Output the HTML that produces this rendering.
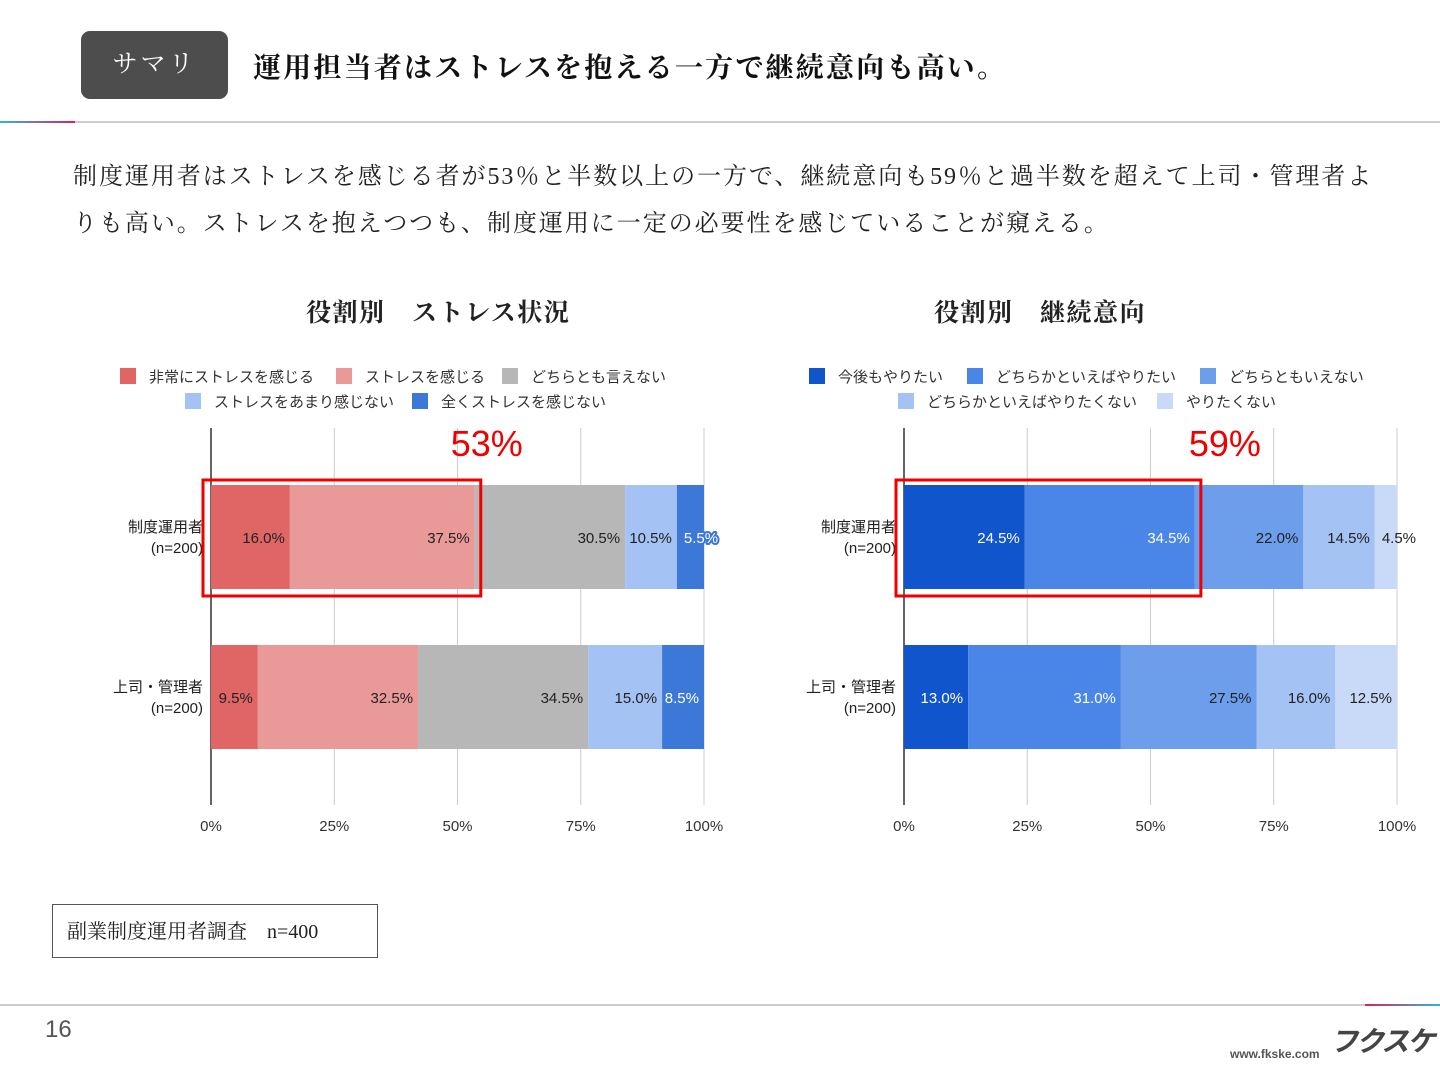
<!DOCTYPE html>
<html><head><meta charset="utf-8"><style>
body{margin:0;width:1440px;height:1080px;background:#fff;position:relative;overflow:hidden;font-family:"Liberation Sans","Noto Sans CJK JP",sans-serif}
.serif{font-family:"Liberation Serif","Noto Serif CJK SC",serif}
</style></head><body>
<div class="serif" style="position:absolute;left:81px;top:31px;width:147px;height:68px;background:#4d4d4d;border-radius:9px;color:#fff;font-size:25px;letter-spacing:3px;line-height:68px;text-align:center">サマリ</div>
<div class="serif" style="position:absolute;left:253px;top:46px;font-size:28px;letter-spacing:2.2px;font-weight:bold;color:#111;white-space:nowrap">運用担当者はストレスを抱える一方で継続意向も高い。</div>
<div style="position:absolute;left:0;top:121px;width:1440px;height:2px;background:#ccc"></div>
<div style="position:absolute;left:0;top:121px;width:75px;height:2px;background:linear-gradient(90deg,#29b6e8,#e0205a)"></div>
<div class="serif" style="position:absolute;left:73px;top:154px;width:1360px;font-size:24px;line-height:47px;color:#222;letter-spacing:1.95px;white-space:nowrap">制度運用者はストレスを感じる者が53％と半数以上の一方で、継続意向も59％と過半数を超えて上司・管理者よ<br>りも高い。ストレスを抱えつつも、制度運用に一定の必要性を感じていることが窺える。</div>
<svg id="chart" width="1440" height="1080" style="position:absolute;left:0;top:0"></svg>
<div class="serif" style="position:absolute;left:52px;top:904px;width:326px;height:54px;border:1.5px solid #555;font-size:20px;line-height:54px;padding-left:14px;box-sizing:border-box;color:#222">副業制度運用者調査　n=400</div>
<div style="position:absolute;left:0;top:1004px;width:1440px;height:2px;background:#ccc"></div>
<div style="position:absolute;left:1365px;top:1004px;width:75px;height:2px;background:linear-gradient(90deg,#e0205a,#29b6e8)"></div>
<div style="position:absolute;left:45px;top:1016px;font-size:24px;color:#555">16</div>
<div style="position:absolute;left:1330px;top:1020px;font-size:28px;font-style:italic;font-weight:bold;color:#444;letter-spacing:-2px">フクスケ</div>
<div style="position:absolute;left:1230px;top:1047px;font-size:12px;font-weight:bold;color:#555">www.fkske.com</div>
<script>
const cats=["制度運用者|(n=200)","上司・管理者|(n=200)"];
const stressNames=["非常にストレスを感じる","ストレスを感じる","どちらとも言えない","ストレスをあまり感じない","全くストレスを感じない"];
const stressVals=[[16.0,37.5,30.5,10.5,5.5],[9.5,32.5,34.5,15.0,8.5]];
const contNames=["今後もやりたい","どちらかといえばやりたい","どちらともいえない","どちらかといえばやりたくない","やりたくない"];
const contVals=[[24.5,34.5,22.0,14.5,4.5],[13.0,31.0,27.5,16.0,12.5]];
const ticks=[0,25,50,75,100];
const NS="http://www.w3.org/2000/svg",svg=document.getElementById('chart');
function el(t,a,txt){const e=document.createElementNS(NS,t);for(const k in a)e.setAttribute(k,a[k]);if(txt!==undefined)e.textContent=txt;svg.appendChild(e);return e;}
function chart(x0,title,tx,names,vals,colors,lblCol,legendRows,hl,hlText,hlOff){
 const W=493,X=v=>x0+v/100*W,rowY=[485,645],bh=104;
 let t=el('text',{x:tx,y:321,'font-size':25,'letter-spacing':1.5,'font-weight':'bold','font-family':'"Liberation Serif","Noto Serif CJK SC",serif',fill:'#222'},title);
 
 legendRows.forEach((row,ri)=>{row.items.forEach((it,j)=>{
  const lx=row.x[j],ly=368+ri*25;
  let r=el('rect',{x:lx,y:ly,width:16,height:16,fill:colors[it]});
  
  let lt=el('text',{x:lx+29,y:ly+14,'font-size':15,fill:'#333'},names[it]);
  });});
 ticks.forEach(v=>{
  let g=el('line',{x1:X(v),x2:X(v),y1:428,y2:805,stroke:v===0?'#333':'#ccc','stroke-width':v===0?1.5:1});
  
  let tl=el('text',{x:X(v),y:831,'font-size':15,fill:'#333','text-anchor':'middle'},v+'%');
  });
 vals.forEach((row,i)=>{let acc=0;
  const p=cats[i].split('|');
  let c1=el('text',{x:x0-8,y:rowY[i]+47,'font-size':15,fill:'#222','text-anchor':'end'},p[0]);
  
  let c2=el('text',{x:x0-8,y:rowY[i]+68,'font-size':15,fill:'#222','text-anchor':'end'},p[1]);
  
  row.forEach((v,j)=>{
   let b=el('rect',{x:X(acc),y:rowY[i],width:X(acc+v)-X(acc),height:bh,fill:colors[j]});
   
   const narrow=(X(acc+v)-X(acc))<40;
   const attrs={x:narrow?X(acc)+7:X(acc+v)-5,y:rowY[i]+58,'font-size':15,fill:lblCol[j],'text-anchor':narrow?'start':'end'};
   if(narrow&&lblCol[j]==='#fff'){attrs.stroke=colors[j];attrs['stroke-width']=4;attrs['paint-order']='stroke';attrs['stroke-linejoin']='round';}
   let vl=el('text',attrs,v.toFixed(1)+'%');
   
   acc+=v;});});
 let hb=el('rect',{x:x0-8,y:480,width:X(hl)-x0+14,height:116,fill:'none',stroke:'#e00','stroke-width':3});
 
 let ht=el('text',{x:X(hl)+hlOff,y:456,'font-size':36,fill:'#e00','text-anchor':'middle'},hlText);
 
}
chart(211,'役割別　ストレス状況',306,stressNames,stressVals,['#e06666','#ea9999','#b7b7b7','#a4c2f4','#3c78d8'],['#222','#222','#222','#222','#fff'],
 [{items:[0,1,2],x:[120,336,502]},{items:[3,4],x:[185,412]}],stressVals[0][0]+stressVals[0][1],'53%',12);
chart(904,'役割別　継続意向',934,contNames,contVals,['#1155cc','#4a86e8','#6d9eeb','#a4c2f4','#c9daf8'],['#fff','#fff','#222','#222','#222'],
 [{items:[0,1,2],x:[809,967,1200]},{items:[3,4],x:[898,1157]}],contVals[0][0]+contVals[0][1],'59%',30);
</script>
</body></html>
